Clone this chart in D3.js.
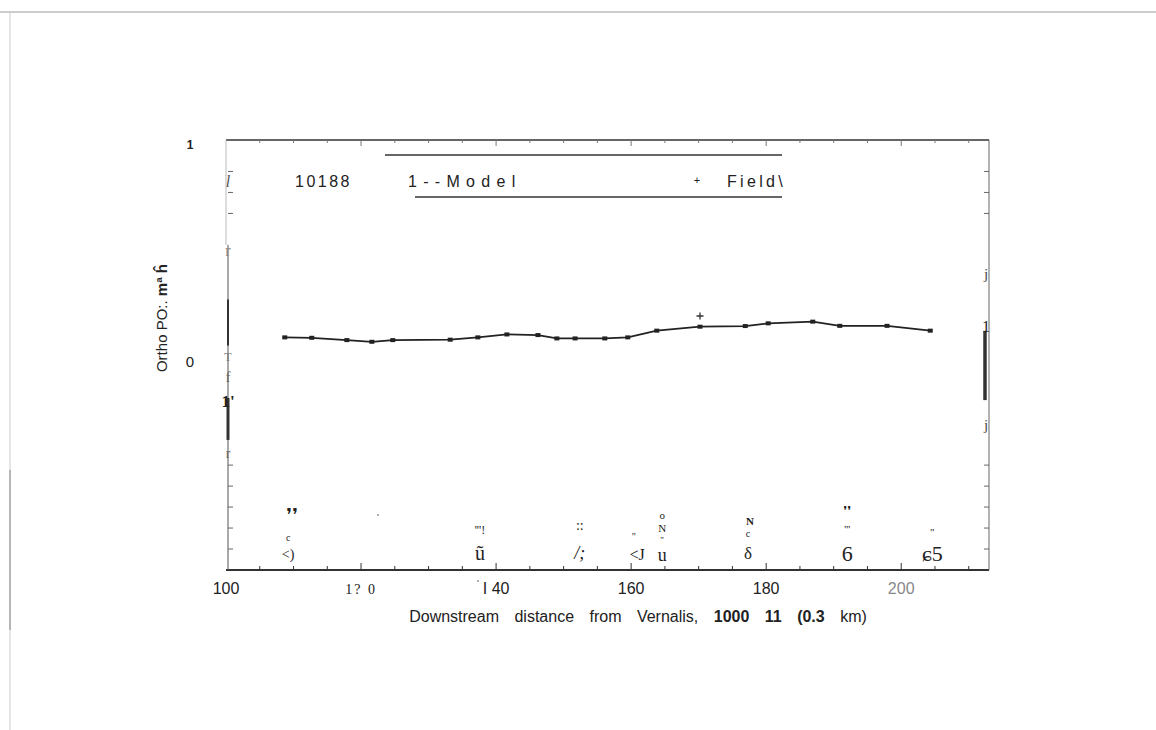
<!DOCTYPE html>
<html>
<head>
<meta charset="utf-8">
<script src="https://cdn.jsdelivr.net/npm/d3@7"></script>
<style>
  body { margin: 0; background: #fff; }
  svg { display: block; }
  text { fill: #222; }
</style>
</head>
<body>
<svg id="chart" width="1156" height="730"></svg>
<script>
// downstream distance (1000 ft) and ortho-PO4 (mg/l)
const modelDist = [108.7, 112.7, 117.9, 121.6, 124.7, 133.2, 137.3, 141.6, 146.2, 149.0, 151.7,
                   156.1, 159.5, 163.8, 170.2, 176.9, 180.3, 186.9, 190.9, 197.9, 204.3];
const modelPO4 = [0.109, 0.107, 0.096, 0.088, 0.096, 0.098, 0.109, 0.123, 0.120, 0.104, 0.104,
                  0.104, 0.109, 0.141, 0.160, 0.163, 0.176, 0.184, 0.164, 0.164, 0.141];
const fieldDist = [170.2];
const fieldPO4 = [0.211];

const xTickValues = [100, 120, 140, 160, 180, 200];
const xTickLabels = ["100", "1? 0", "I 40", "160", "180", "200"];
const yTickValues = [0, 1];
const yTickLabels = ["0", "1"];

// station marks (garbled in the scan), by distance
const stationDist = [109.8, 109.2, 109.2, 137.6, 137.6, 152.4, 152.4, 160.4, 160.9, 164.6, 164.6, 164.6, 164.6,
                     177.6, 177.3, 177.3, 192.0, 192.0, 192.0, 204.6, 204.6];
const stationLevel = [-0.735, -0.843, -0.924, -0.809, -0.919, -0.787, -0.919, -0.838, -0.924, -0.738, -0.800, -0.857, -0.928,
                      -0.766, -0.828, -0.919, -0.720, -0.805, -0.919, -0.819, -0.919];
const stationText = ["❜❜", "c", "<)", "'''!", "ũ", "::", "/;", "\"", "<J", "o", "N", "\"", "u",
                     "N", "c", "δ", "❜❜", "'''", "6", "\"", "ɕ5"];
const stationSize = [18, 10, 14, 12, 20, 14, 18, 10, 16, 11, 11, 9, 18, 11, 10, 17, 12, 11, 22, 11, 22];

const svg = d3.select("#chart");

const xScale = d3.scaleLinear().domain([100, 213]).range([226, 989]);
const yScale = d3.scaleLinear().domain([-1, 1.05]).range([570, 140]);

// page scan edges
svg.append("line").attr("x1", 0).attr("x2", 1156).attr("y1", 12).attr("y2", 12)
  .attr("stroke", "#999").attr("stroke-width", 1);
svg.append("line").attr("x1", 10).attr("x2", 10).attr("y1", 12).attr("y2", 730)
  .attr("stroke", "#ccc").attr("stroke-width", 1);
svg.append("line").attr("x1", 10).attr("x2", 10).attr("y1", 470).attr("y2", 630)
  .attr("stroke", "#888").attr("stroke-width", 1);

// frame
const x0 = xScale.range()[0], x1 = xScale.range()[1];
const yTop = yScale.range()[1], yBot = yScale.range()[0];
const frame = svg.append("g").attr("stroke", "#333").attr("fill", "none");
frame.append("line").attr("x1", x0).attr("x2", x1).attr("y1", yTop).attr("y2", yTop).attr("stroke-width", 1.5);
frame.append("line").attr("x1", x0).attr("x2", x1).attr("y1", yBot).attr("y2", yBot).attr("stroke-width", 1.8);
frame.append("line").attr("x1", x0).attr("x2", x0).attr("y1", yTop).attr("y2", yScale(0.55)).attr("stroke", "#bbb").attr("stroke-width", 1);
frame.append("line").attr("x1", x0 + 2).attr("x2", x0 + 2).attr("y1", yScale(0.55)).attr("y2", yBot).attr("stroke", "#555").attr("stroke-width", 1);
frame.append("line").attr("x1", x1).attr("x2", x1).attr("y1", yTop).attr("y2", yBot).attr("stroke", "#666").attr("stroke-width", 1);

// thick segments along the side axes
frame.append("line").attr("x1", x0 + 2).attr("x2", x0 + 2).attr("y1", yScale(0.29)).attr("y2", yScale(0.07)).attr("stroke-width", 2);
frame.append("line").attr("x1", x0 + 2).attr("x2", x0 + 2).attr("y1", yScale(-0.18)).attr("y2", yScale(-0.38)).attr("stroke-width", 3);
frame.append("line").attr("x1", x1 - 4).attr("x2", x1 - 4).attr("y1", yScale(0.14)).attr("y2", yScale(-0.19)).attr("stroke-width", 3.5);

// inward minor ticks
const xMinor = d3.range(105, 213, 5);
frame.selectAll(".tb").data(xMinor).enter().append("line")
  .attr("x1", d => xScale(d)).attr("x2", d => xScale(d))
  .attr("y1", yBot).attr("y2", d => yBot - (d % 20 === 0 ? 7 : 4)).attr("stroke-width", 1);
frame.selectAll(".tt").data(xMinor).enter().append("line")
  .attr("x1", d => xScale(d)).attr("x2", d => xScale(d))
  .attr("y1", yTop).attr("y2", d => yTop + (d % 20 === 0 ? 6 : 3)).attr("stroke", "#777").attr("stroke-width", 1);
const yMinor = d3.range(-9, 10).map(d => d / 10).filter(d => d < -0.4 || d > 0.6);
frame.selectAll(".tl").data(yMinor).enter().append("line")
  .attr("x1", x0 + 2).attr("x2", x0 + 7).attr("y1", d => yScale(d)).attr("y2", d => yScale(d))
  .attr("stroke", "#666").attr("stroke-width", 1);
frame.selectAll(".tr").data(yMinor).enter().append("line")
  .attr("x1", x1).attr("x2", x1 - 5).attr("y1", d => yScale(d)).attr("y2", d => yScale(d))
  .attr("stroke", "#666").attr("stroke-width", 1);

// serif marks along the side axes (scan noise)
const sideMarks = [
  [x0 + 2, 0.85, "l", 16, "italic", "#555"], [x0 + 2, 0.52, "r", 16, "normal", "#888"],
  [x0 + 2, 0.02, "T", 12, "normal", "#777"], [x0 + 2, -0.08, "f", 15, "normal", "#666"],
  [x0 + 2, -0.2, "1'", 17, "bold", "#222"], [x0 + 2, -0.44, "r", 14, "normal", "#666"],
  [x1 - 3, 0.41, "j", 15, "normal", "#444"], [x1 - 3, 0.16, "1", 16, "normal", "#222"],
  [x1 - 3, -0.31, "j", 15, "normal", "#444"]
];
svg.selectAll(".side").data(sideMarks).enter().append("text")
  .attr("x", d => d[0]).attr("y", d => yScale(d[1]) + 5)
  .attr("text-anchor", "middle")
  .style("font-family", "'Liberation Serif', 'DejaVu Serif', serif")
  .style("font-size", d => d[3] + "px")
  .style("font-style", d => d[4] === "italic" ? "italic" : "normal")
  .style("font-weight", d => d[4] === "bold" ? "bold" : "normal")
  .style("fill", d => d[5])
  .text(d => d[2]);

// x tick labels
svg.selectAll(".xl").data(xTickValues).enter().append("text")
  .attr("x", d => xScale(d)).attr("y", 594)
  .attr("text-anchor", "middle")
  .style("font-family", (d, i) => i === 1 ? "'Liberation Serif', serif" : "'Liberation Sans', Arial, sans-serif")
  .style("font-size", (d, i) => i === 1 ? "14px" : "16px")
  .style("fill", (d, i) => i === 5 ? "#888" : "#222")
  .attr("letter-spacing", (d, i) => i === 1 ? 2 : 0)
  .text((d, i) => xTickLabels[i]);

// y tick labels
svg.selectAll(".yl").data(yTickValues).enter().append("text")
  .attr("x", 190).attr("y", d => yScale(d) + (d === 1 ? -1 : 7))
  .attr("text-anchor", "middle")
  .style("font-family", "'Liberation Sans', Arial, sans-serif")
  .style("font-size", (d, i) => i === 1 ? "12px" : "15px")
  .style("font-weight", (d, i) => i === 1 ? "bold" : "normal")
  .text((d, i) => yTickLabels[i]);

// axis titles
const xt = svg.append("text").attr("x", 638).attr("y", 622).attr("text-anchor", "middle")
  .style("font-family", "'Liberation Sans', Arial, sans-serif").style("font-size", "16px")
  .attr("word-spacing", 11);
xt.append("tspan").text("Downstream distance from Vernalis, ");
xt.append("tspan").style("font-weight", "bold").text("1000 11 (0.3");
xt.append("tspan").text(" km)");

const yt = svg.append("text").attr("transform", "translate(167,318) rotate(-90)")
  .attr("text-anchor", "middle")
  .style("font-family", "'Liberation Sans', Arial, sans-serif").style("font-size", "15px");
yt.append("tspan").text("Ortho PO:.    ");
yt.append("tspan").style("font-weight", "bold").text("mª ĥ");

// legend
const lg = svg.append("g");
lg.append("line").attr("x1", 385).attr("x2", 782).attr("y1", 155).attr("y2", 155).attr("stroke", "#333").attr("stroke-width", 1.3);
lg.append("line").attr("x1", 415).attr("x2", 782).attr("y1", 197).attr("y2", 197).attr("stroke", "#333").attr("stroke-width", 1.3);
lg.append("text").attr("x", 295).attr("y", 187).attr("letter-spacing", 2.5)
  .style("font-family", "'Liberation Sans', Arial, sans-serif").style("font-size", "16px").text("10188");
lg.append("text").attr("x", 408).attr("y", 187).attr("letter-spacing", 6.3)
  .style("font-family", "'Liberation Sans', Arial, sans-serif").style("font-size", "16px").text("1--Model");
lg.append("text").attr("x", 697).attr("y", 184).attr("text-anchor", "middle")
  .style("font-family", "'Liberation Sans', Arial, sans-serif").style("font-size", "11px").text("+");
lg.append("text").attr("x", 727).attr("y", 187).attr("letter-spacing", 3.3)
  .style("font-family", "'Liberation Sans', Arial, sans-serif").style("font-size", "16px").text("Field\\");

// model line and its points
const modelData = d3.zip(modelDist, modelPO4);
const valueline = d3.line().x(d => xScale(d[0])).y(d => yScale(d[1]));
svg.append("path").datum(modelData).attr("d", valueline)
  .attr("fill", "none").attr("stroke", "#222").attr("stroke-width", 1.8);
svg.selectAll(".dot").data(modelData).enter().append("rect")
  .attr("x", d => xScale(d[0]) - 2.5).attr("y", d => yScale(d[1]) - 2)
  .attr("width", 5).attr("height", 4).attr("fill", "#222");

// field observations
const fieldData = d3.zip(fieldDist, fieldPO4);
svg.selectAll(".field").data(fieldData).enter().append("path")
  .attr("d", d => {
    const cx = xScale(d[0]), cy = yScale(d[1]);
    return `M${cx - 3.5},${cy}H${cx + 3.5}M${cx},${cy - 3.5}V${cy + 3.5}`;
  })
  .attr("stroke", "#333").attr("stroke-width", 1.3);

// station labels
const heavyMarks = [0, 16];
svg.selectAll(".st").data(stationText).enter().append("text")
  .attr("x", (d, i) => xScale(stationDist[i]))
  .attr("y", (d, i) => yScale(stationLevel[i]))
  .attr("text-anchor", "middle")
  .attr("dominant-baseline", "central")
  .style("font-family", (d, i) => heavyMarks.includes(i) ? "'DejaVu Sans', sans-serif" : "'Liberation Serif', 'DejaVu Serif', serif")
  .style("font-size", (d, i) => stationSize[i] + "px")
  .style("font-style", (d, i) => i === 6 ? "italic" : "normal")
  .style("font-weight", (d, i) => i === 13 ? "bold" : "normal")
  .text(d => d);

// stray specks
svg.append("circle").attr("cx", 378).attr("cy", 515).attr("r", 1).attr("fill", "#999");
svg.append("circle").attr("cx", 478).attr("cy", 581).attr("r", 1).attr("fill", "#999");
</script>
</body>
</html>
